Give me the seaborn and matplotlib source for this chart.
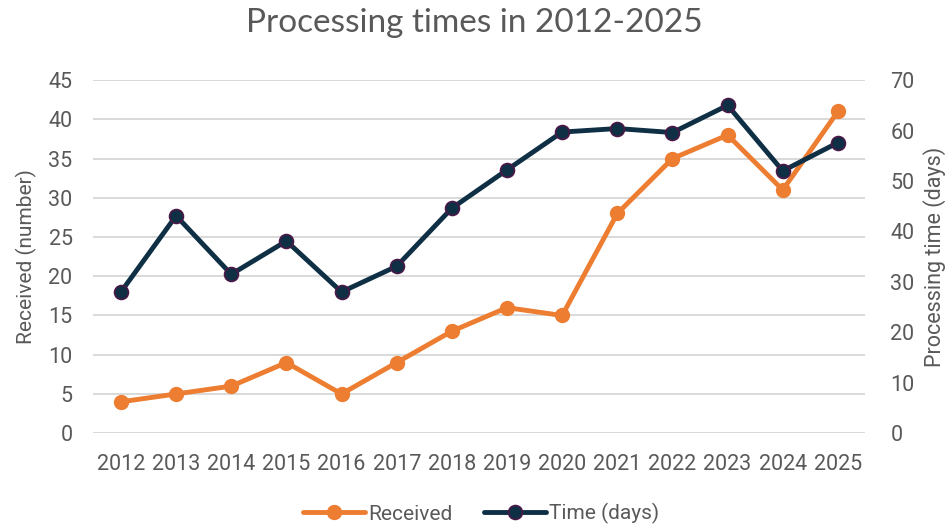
import matplotlib
matplotlib.use("Agg")
import matplotlib.pyplot as plt
import seaborn as sns
import pandas as pd

years = ["2012", "2013", "2014", "2015", "2016", "2017", "2018", "2019",
         "2020", "2021", "2022", "2023", "2024", "2025"]
received = [4, 5, 6, 9, 5, 9, 13, 16, 15, 28, 35, 38, 31, 41]
time_days = [28, 43.1, 31.5, 38.1, 28, 33.1, 44.6, 52.2, 59.7, 60.4, 59.6, 65, 52, 57.6]

title = "Processing times in 2012-2025"
left_label = "Received (number)"
right_label = "Processing time (days)"
left_ticks = list(range(0, 50, 5))
right_ticks = list(range(0, 80, 10))

df = pd.DataFrame({"year": years, "received": received, "time": time_days})

sns.set_theme(style="white")
plt.rcParams["font.family"] = ["Roboto", "DejaVu Sans"]

grey = "#595959"
orange = "#ED7D31"
navy = "#0E2F44"
purple = "#4B1848"

fig = plt.figure(figsize=(9.49, 5.27), dpi=100)
ax = fig.add_axes([0.0984, 0.178, 0.8136, 0.670])
ax2 = ax.twinx()

sns.lineplot(data=df, x="year", y="received", ax=ax, color=orange, linewidth=3.5,
             marker="o", markersize=10, markeredgecolor=orange, markeredgewidth=1,
             label="Received", legend=False, sort=False)
sns.lineplot(data=df, x="year", y="time", ax=ax2, color=navy, linewidth=3.5,
             marker="o", markersize=10, markeredgecolor=purple, markeredgewidth=1.2,
             label="Time (days)", legend=False, sort=False)

ax.set_xlim(-0.5, len(years) - 0.5)
ax.set_ylim(0, 45)
ax2.set_ylim(0, 70)
ax.set_yticks(left_ticks)
ax2.set_yticks(right_ticks)
ax.grid(axis="y", color="#D9D9D9", linewidth=1.4)
ax.set_axisbelow(True)
ax2.grid(False)

for a in (ax, ax2):
    for s in a.spines.values():
        s.set_visible(False)
    a.tick_params(axis="both", length=0, labelsize=15.5, labelcolor=grey)

ax.tick_params(axis="y", pad=15)
ax2.tick_params(axis="y", pad=18)
ax.tick_params(axis="x", pad=15)

ax.set_xlabel("")
ax.set_ylabel(left_label, fontsize=15, color=grey, labelpad=8)
ax2.set_ylabel(right_label, fontsize=15.5, color=grey, labelpad=6)

fig.suptitle(title, fontsize=24, color=grey, y=0.985, family=["Lato", "DejaVu Sans"])

h1, l1 = ax.get_legend_handles_labels()
h2, l2 = ax2.get_legend_handles_labels()
leg = fig.legend(h1 + h2, l1 + l2, loc="center", bbox_to_anchor=(0.507, 0.025),
                 ncol=2, frameon=False, fontsize=15, handlelength=3.0,
                 handletextpad=0.15, columnspacing=1.5)
for t in leg.get_texts():
    t.set_color(grey)

fig.savefig("out.png", dpi=100)
